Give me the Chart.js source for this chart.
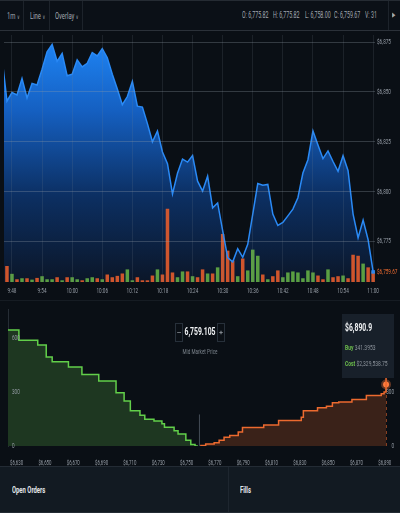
<!DOCTYPE html>
<html>
<head>
<meta charset="UTF-8">
<meta name="viewport" content="width=device-width, initial-scale=1.0">
<title>BTC-USD 1m</title>
<style>
  html, body { margin:0; padding:0; }
  body { width:400px; height:513px; overflow:hidden; position:relative; background:#0a0f15;
         font-family:Roboto,"DejaVu Sans",sans-serif; color:#a2a9b1; }
  .t { position:absolute; white-space:nowrap; transform:scaleX(0.62); transform-origin:0 50%; }
  .c { transform-origin:50% 50%; text-align:center; }
  #toolbar { position:absolute; left:0; top:0; width:400px; height:31px; background:#0b1017;
             border-top:1px solid #252b33; border-bottom:1px solid #2b3139; box-sizing:border-box; font-size:8.5px; }
  #toolbar .t { top:9px; line-height:11px; }
  #toolbar .m { font-size:9.5px; }
  #toolbar .sep { position:absolute; top:0; width:1px; height:29px; background:#1d232b; }
  #toolbar .car { font-size:6px; }
  #priceBox { position:absolute; left:0; top:31px; width:400px; height:269px; }
  #split { position:absolute; left:0; top:300px; width:400px; height:1px; background:#161c23; }
  #depthBox { position:absolute; left:0; top:301px; width:400px; height:165px; }
  .pm { position:absolute; top:323px; width:8px; height:19px; border:1px solid #27303a; box-sizing:border-box;
        font-size:8px; line-height:17px; text-align:center; color:#b4bac1; }
  #midVal { left:150px; width:100px; top:325px; line-height:14px; color:#f2f4f6; font-weight:bold; font-size:11px; }
  #midLbl { left:150px; width:100px; top:347px; line-height:10px; font-size:7.5px; color:#7c848d; }
  #tip { position:absolute; left:342px; top:314px; width:52px; height:64px; background:#18202a; }
  #tipPrice { left:345px; top:321px; line-height:14px; font-size:11px; font-weight:bold; color:#f0f2f4; }
  .row { left:345px; line-height:10px; font-size:8px; color:#8c939b; }
  .row b { color:#6dbd4c; font-weight:bold; }
  #bottom { position:absolute; left:0; top:466px; width:400px; height:47px; background:#121a22;
            border-top:1px solid #232b34; border-bottom:1px solid #232b34; box-sizing:border-box; }
  .tab { top:484px; line-height:12px; font-size:9.5px; color:#e2e6ea; font-weight:bold; }
  #bdiv { position:absolute; left:228px; top:467px; width:1px; height:45px; background:#1e262f; }
</style>
</head>
<body>
<div id="toolbar">
  <span class="t m" style="left:7px">1m <span class="car">∨</span></span>
  <div class="sep" style="left:23px"></div>
  <span class="t m" style="left:30px">Line <span class="car">∨</span></span>
  <div class="sep" style="left:49px"></div>
  <span class="t m" style="left:55px">Overlay <span class="car">∨</span></span>
  <div class="sep" style="left:82px"></div>
  <span class="t" id="oO" style="left:242px"></span>
  <span class="t" id="oH" style="left:273px"></span>
  <span class="t" id="oL" style="left:305px"></span>
  <span class="t" id="oC" style="left:334px"></span>
  <span class="t" id="oV" style="left:365px"></span>
  <div class="sep" style="left:388px"></div>
  <span class="t" style="left:392px;font-size:7px">▶</span>
</div>
<div id="priceBox"><canvas id="priceChart"></canvas></div>
<div id="split"></div>
<div id="depthBox"><canvas id="depthChart"></canvas></div>
<div class="pm" style="left:175px">–</div>
<span class="t c" id="midVal"></span>
<div class="pm" style="left:217px">+</div>
<span class="t c" id="midLbl">Mid Market Price</span>
<div id="tip"></div>
<span class="t" id="tipPrice"></span>
<span class="t row" style="top:343px"><b>Buy</b> <span id="tipBuy"></span></span>
<span class="t row" style="top:359px"><b>Cost</b> <span id="tipCost"></span></span>
<div id="bottom"></div>
<span class="t tab" style="left:12px">Open Orders</span>
<div id="bdiv"></div>
<span class="t tab" style="left:240px">Fills</span>

<script src="https://cdn.jsdelivr.net/npm/chart.js@4.4.0/dist/chart.umd.min.js"></script>
<script>
// ---- price panel data (one bar per minute, 9:47 .. 11:00)
var timeTicks = ['9:48', '9:54', '10:00', '10:06', '10:12', '10:18', '10:24', '10:30', '10:36', '10:42', '10:48', '10:54', '11:00']
var firstTickBar = 1
var tickEvery = 6
var prevClose = 6867.4
var closes = [
  6845.4, 6849.7, 6848.5, 6856.8, 6847.0, 6854.3, 6853.5, 6861.4, 6870.2, 6873.8,
  6865.4, 6869.3, 6858.1, 6858.9, 6866.1, 6862.6, 6864.4, 6869.8, 6868.1, 6871.7,
  6867.2, 6858.9, 6851.5, 6843.6, 6847.7, 6855.3, 6842.9, 6842.4, 6834.1, 6825.0,
  6830.4, 6819.9, 6814.0, 6798.8, 6809.2, 6816.3, 6814.8, 6818.1, 6805.2, 6800.3,
  6807.7, 6791.8, 6794.3, 6780.4, 6766.8, 6764.7, 6771.3, 6767.0, 6773.5, 6788.7,
  6804.0, 6803.2, 6803.6, 6788.7, 6783.0, 6784.5, 6787.8, 6791.2, 6796.9, 6809.3,
  6816.0, 6830.4, 6823.4, 6816.5, 6820.4, 6815.1, 6810.2, 6818.0, 6810.5, 6788.7,
  6776.8, 6785.7, 6775.8, 6759.67
]
var volumes = [
  47, 24, 8, 11, 11, 7, 12, 17, 8, 8,
  14, 5, 14, 14, 8, 5, 11, 14, 11, 8,
  22, 14, 18, 25, 37, 5, 14, 5, 5, 19,
  37, 22, 215, 28, 14, 31, 31, 17, 14, 37,
  25, 25, 43, 141, 92, 63, 17, 69, 34, 95,
  77, 22, 8, 17, 34, 14, 28, 31, 28, 11,
  34, 28, 19, 8, 37, 14, 17, 19, 11, 80,
  77, 54, 43, 31
]
var priceTicks = [6775, 6800, 6825, 6850, 6875]
var lastOpen = 6775.82
var lastHigh = 6775.82
var lastLow = 6758.00
var lastPrice = 6759.67

// ---- order book depth (cumulative size, each point starts a level)
var bidPrices = [6620, 6631.6, 6644.9, 6650.9, 6655.1, 6666.6, 6676.1, 6688.0, 6700.2, 6705.9, 6710.3,
                 6717.1, 6720.5, 6727.0, 6732.6, 6734.4, 6741.2, 6744.0, 6749.5, 6753.0, 6756.0, 6758.0]
var bidSizes  = [643, 587, 560, 494, 467, 438, 396, 361, 295, 250, 196,
                 170, 148, 138, 124, 104, 85, 66, 32, 8, 0, 0]
var askPrices = [6759.6, 6763.5, 6769.5, 6773.0, 6776.5, 6780.5, 6786.5, 6789.5, 6804.5, 6815.0, 6831.0,
                 6832.5, 6842.5, 6848.8, 6853.0, 6857.5, 6866.8, 6877.0, 6887.5, 6889.5, 6890.9]
var askSizes  = [3, 11, 18, 32, 48, 58, 78, 103, 117, 142, 159,
                 195, 212, 221, 240, 244, 258, 280, 290, 300, 341.3953]
var depthTicks = [6630, 6650, 6670, 6690, 6710, 6730, 6750, 6770, 6790, 6810, 6830, 6850, 6870, 6890]
var sizeTicks = [0, 300, 600]
var midPrice = 6759.105
var midWall = 175
var hoverPrice = 6890.9
var hoverBuy = 341.3953
var hoverCost = 2329538.75
var crosshairTop = 706

var FONT = 'Roboto, "DejaVu Sans", sans-serif'
var SQUEEZE = 0.58
var GREY = '#959ca5'
var ORANGE = '#ec6a2f'

function num(v, d) {
  return v.toLocaleString('en-US', {minimumFractionDigits: d, maximumFractionDigits: d})
}

document.getElementById('oO').textContent = 'O: ' + num(lastOpen, 2)
document.getElementById('oH').textContent = 'H: ' + num(lastHigh, 2)
document.getElementById('oL').textContent = 'L: ' + num(lastLow, 2)
document.getElementById('oC').textContent = 'C: ' + num(lastPrice, 2)
document.getElementById('oV').textContent = 'V:  ' + volumes[volumes.length - 1]
document.getElementById('midVal').textContent = num(midPrice, 3)
document.getElementById('tipPrice').textContent = '$' + num(hoverPrice, 1)
document.getElementById('tipBuy').textContent = hoverBuy.toFixed(4)
document.getElementById('tipCost').textContent = '$' + num(hoverCost, 2)

// the original ui uses a narrow face; squeeze canvas text the same way
var squeezeText = {
  id: 'squeezeText',
  beforeInit: function(chart) {
    var ctx = chart.ctx
    var fill = ctx.fillText
    ctx.fillText = function(text, x, y) {
      this.save()
      this.translate(x, y)
      this.scale(SQUEEZE, 1)
      fill.call(this, text, 0, 0)
      this.restore()
    }
  }
}
function noPad(s) { s.paddingTop = 0; s.paddingBottom = 0; s.paddingLeft = 0; s.paddingRight = 0 }

// ---------------- price + volume chart
var pctx = document.getElementById('priceChart').getContext('2d')
var blue = pctx.createLinearGradient(0, 5, 0, 251)
blue.addColorStop(0, '#1f87f8')
blue.addColorStop(0.3, '#1560c2')
blue.addColorStop(0.65, '#0c2f62')
blue.addColorStop(1, '#0b1628')

var linePts = [{x: -1, y: prevClose}]
closes.forEach(function(c, i) { linePts.push({x: i, y: c}) })
var volPts = volumes.map(function(v, i) { return {x: i, y: v} })
var volColors = closes.map(function(c, i) {
  var before = i == 0 ? prevClose : closes[i - 1]
  return c >= before ? 'rgba(98,170,68,0.92)' : 'rgba(228,92,44,0.9)'
})

new Chart(pctx, {
  type: 'bar',
  plugins: [squeezeText],
  data: {
    datasets: [
      {
        type: 'line', data: linePts, yAxisID: 'y', order: 0,
        borderColor: '#2a8af6', borderWidth: 1.5, tension: 0,
        fill: 'start', backgroundColor: blue,
        pointRadius: function(c) { return c.dataIndex == linePts.length - 1 ? 2.5 : 0 },
        pointStyle: 'rect', pointBackgroundColor: '#2a8af6', pointBorderWidth: 0
      },
      {
        type: 'bar', data: volPts, yAxisID: 'yv', order: 1,
        backgroundColor: volColors, barPercentage: 0.7, categoryPercentage: 1
      }
    ]
  },
  options: {
    responsive: true, maintainAspectRatio: false, animation: false,
    layout: {padding: {top: 1, left: 0, right: 0, bottom: 0}},
    plugins: {legend: {display: false}, tooltip: {enabled: false}, filler: {drawTime: 'beforeDatasetsDraw'}},
    scales: {
      x: {
        type: 'linear', min: -0.59, max: 73.37, offset: false,
        afterBuildTicks: function(axis) {
          axis.ticks = timeTicks.map(function(t, j) { return {value: firstTickBar + tickEvery * j} })
        },
        afterFit: function(s) { s.height = 18; noPad(s) },
        grid: {color: 'rgba(120,130,142,0.17)', drawTicks: false, offset: false, z: 1},
        border: {display: false},
        ticks: {
          z: 1, color: GREY, font: {family: FONT, size: 8}, padding: 4, maxRotation: 0, autoSkip: false,
          callback: function(v) { return timeTicks[Math.round((v - firstTickBar) / tickEvery)] }
        }
      },
      y: {
        position: 'right', min: 6754.6, max: 6878.6,
        afterBuildTicks: function(axis) {
          axis.ticks = priceTicks.concat([lastPrice]).map(function(v) { return {value: v} })
        },
        afterFit: function(s) { s.width = 25; noPad(s) },
        grid: {
          drawTicks: false, z: 1,
          color: function(c) { return c.tick && c.tick.value == lastPrice ? 'rgba(0,0,0,0)' : 'rgba(150,158,168,0.3)' }
        },
        border: {display: false},
        ticks: {
          z: 1, font: {family: FONT, size: 8}, padding: 2,
          color: function(c) { return c.tick && c.tick.value == lastPrice ? ORANGE : GREY },
          callback: function(v) { return '$' + num(v, v == lastPrice ? 2 : 0) }
        }
      },
      yv: {display: false, min: 0, max: 725}
    }
  }
})

// ---------------- depth chart
var bids = bidPrices.map(function(p, i) { return {x: p, y: bidSizes[i]} })
var asks = askPrices.map(function(p, i) { return {x: p, y: askSizes[i]} })
var sizeAxis = function(pos, pad) {
  return {
    position: pos, min: 0, max: 760,
    afterBuildTicks: function(axis) { axis.ticks = sizeTicks.map(function(v) { return {value: v} }) },
    afterFit: function(s) { s.width = 0; noPad(s) },
    grid: {display: false},
    border: {display: pos == 'left', color: '#262d35'},
    ticks: {z: 1, mirror: true, padding: pad, color: GREY, font: {family: FONT, size: 8}}
  }
}

new Chart(document.getElementById('depthChart'), {
  type: 'line',
  plugins: [squeezeText],
  data: {
    datasets: [
      {data: bids, stepped: true, borderColor: '#62cf4a', borderWidth: 1.5, backgroundColor: '#1e3721', fill: 'origin', pointRadius: 0},
      {data: asks, stepped: true, borderColor: ORANGE, borderWidth: 1.5, backgroundColor: '#3a2219', fill: 'origin', pointRadius: 0},
      {data: [{x: midPrice, y: 0}, {x: midPrice, y: midWall}], borderColor: '#454d57', borderWidth: 1, pointRadius: 0, fill: false},
      {data: [{x: hoverPrice, y: hoverBuy}, {x: hoverPrice, y: crosshairTop}], borderColor: ORANGE, borderWidth: 1.5, pointRadius: 0, fill: false},
      {data: [{x: hoverPrice, y: 0}, {x: hoverPrice, y: hoverBuy}], borderColor: ORANGE, borderWidth: 1, borderDash: [3, 3], pointRadius: 0, fill: false},
      {data: [{x: hoverPrice, y: hoverBuy}], showLine: false, pointRadius: 3,
       pointBackgroundColor: '#ff7c3e', pointBorderColor: 'rgba(255,124,62,0.35)', pointBorderWidth: 4}
    ]
  },
  options: {
    responsive: true, maintainAspectRatio: false, animation: false,
    layout: {padding: {top: 2, left: 0, right: 0, bottom: 0}},
    plugins: {legend: {display: false}, tooltip: {enabled: false}},
    scales: {
      x: {
        type: 'linear', min: 6623.9, max: 6895.1,
        afterBuildTicks: function(axis) { axis.ticks = depthTicks.map(function(v) { return {value: v} }) },
        afterFit: function(s) { s.height = 20; noPad(s) },
        grid: {display: false},
        border: {display: false},
        ticks: {color: GREY, font: {family: FONT, size: 7.5}, padding: 5, maxRotation: 0, autoSkip: false,
                callback: function(v) { return '$' + num(v, 0) }}
      },
      y: sizeAxis('left', 4),
      y2: sizeAxis('right', 2)
    }
  }
})
</script>
</body>
</html>
